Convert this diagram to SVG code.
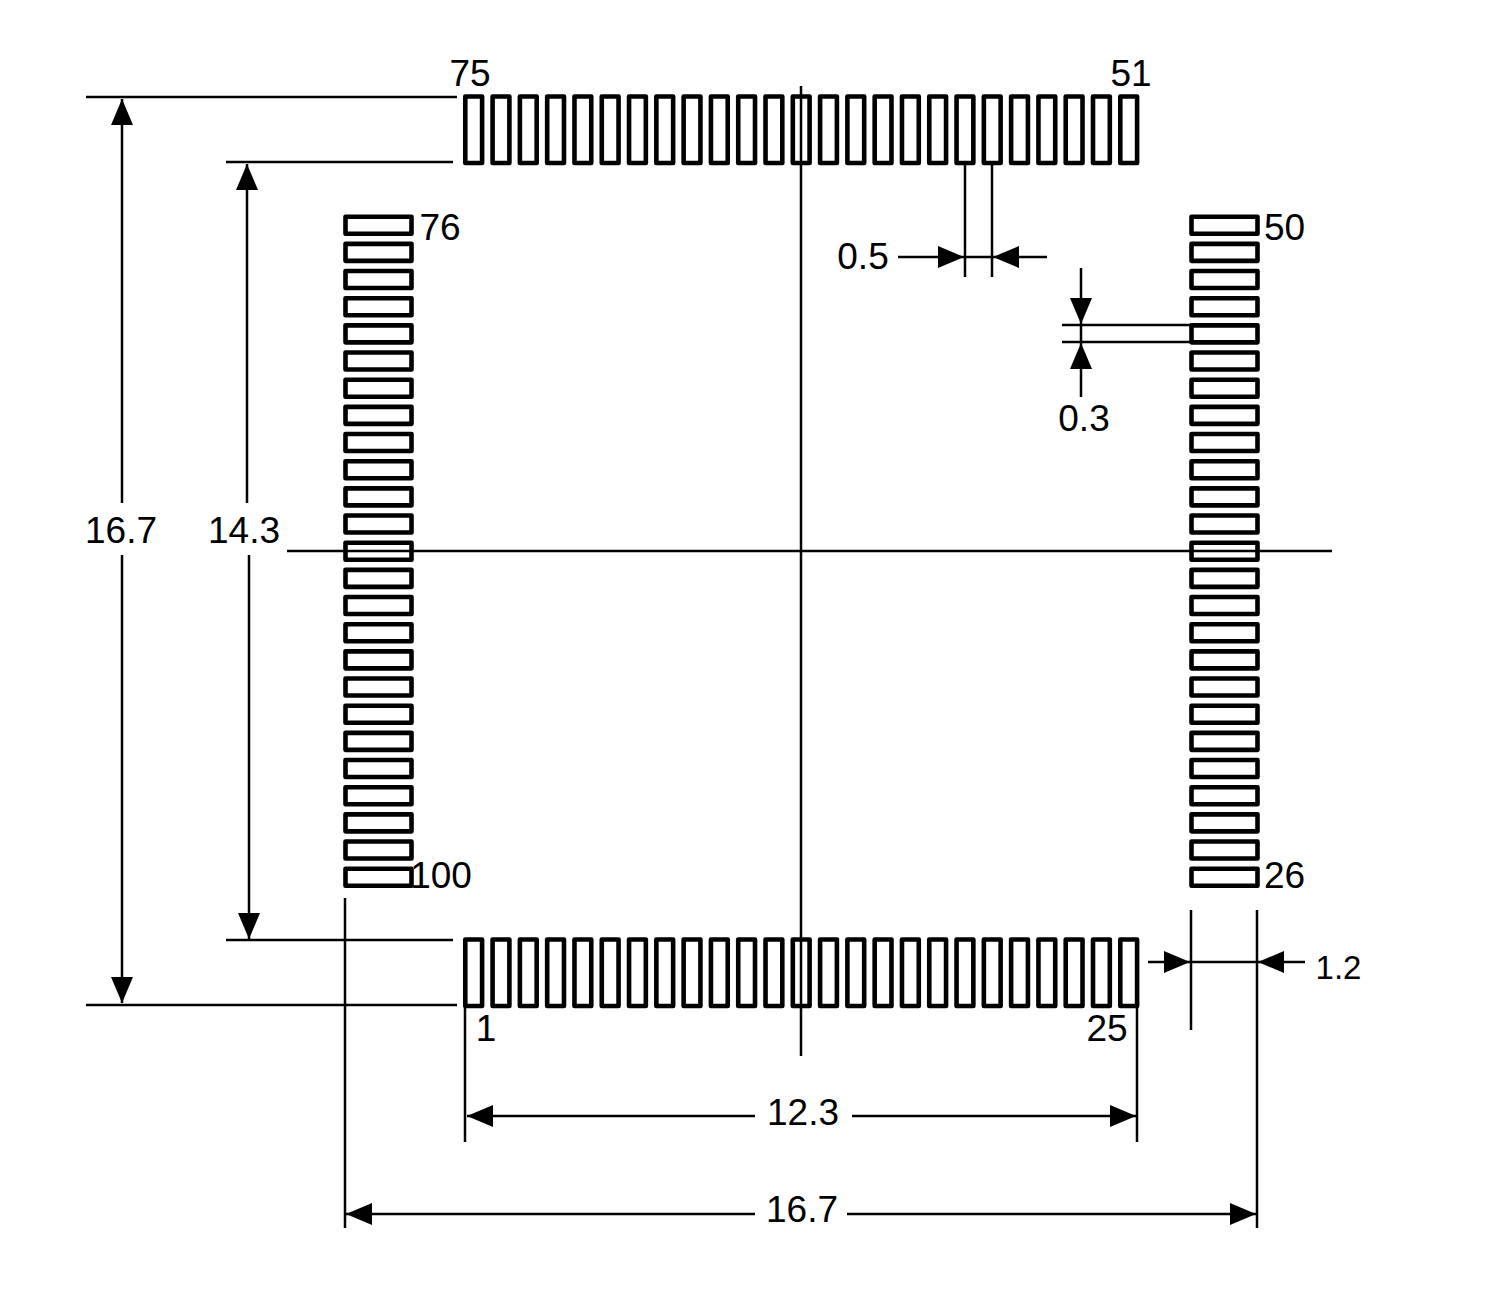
<svg xmlns="http://www.w3.org/2000/svg" width="1500" height="1300" viewBox="0 0 1500 1300">
<style>
text{font-family:"Liberation Sans",Arial,sans-serif;font-size:37px;fill:#000;text-anchor:middle}
.pad{fill:#fff;stroke:#000;stroke-width:4.6;stroke-linejoin:round}
.ln{stroke:#000;stroke-width:2.5;fill:none}
.ar{marker-end:url(#ah)}
</style>
<defs>
<marker id="ah" markerUnits="userSpaceOnUse" markerWidth="28" markerHeight="24" refX="26" refY="11" orient="auto"><path d="M0,0L26,11L0,22Z" fill="#000"/></marker>
<rect id="pv" class="pad" width="16.800" height="66.500"/>
<rect id="ph" class="pad" width="66" height="17"/>
<g id="rowv">
<use href="#pv" x="0"/><use href="#pv" x="27.29"/><use href="#pv" x="54.58"/><use href="#pv" x="81.88"/><use href="#pv" x="109.17"/><use href="#pv" x="136.46"/><use href="#pv" x="163.75"/><use href="#pv" x="191.04"/><use href="#pv" x="218.33"/><use href="#pv" x="245.63"/><use href="#pv" x="272.92"/><use href="#pv" x="300.21"/><use href="#pv" x="327.5"/><use href="#pv" x="354.79"/><use href="#pv" x="382.08"/><use href="#pv" x="409.38"/><use href="#pv" x="436.67"/><use href="#pv" x="463.96"/><use href="#pv" x="491.25"/><use href="#pv" x="518.54"/><use href="#pv" x="545.83"/><use href="#pv" x="573.13"/><use href="#pv" x="600.42"/><use href="#pv" x="627.71"/><use href="#pv" x="655"/>
</g>
<g id="colh">
<use href="#ph" y="0"/><use href="#ph" y="27.17"/><use href="#ph" y="54.33"/><use href="#ph" y="81.5"/><use href="#ph" y="108.67"/><use href="#ph" y="135.83"/><use href="#ph" y="163"/><use href="#ph" y="190.17"/><use href="#ph" y="217.33"/><use href="#ph" y="244.5"/><use href="#ph" y="271.67"/><use href="#ph" y="298.83"/><use href="#ph" y="326"/><use href="#ph" y="353.17"/><use href="#ph" y="380.33"/><use href="#ph" y="407.5"/><use href="#ph" y="434.67"/><use href="#ph" y="461.83"/><use href="#ph" y="489"/><use href="#ph" y="516.17"/><use href="#ph" y="543.33"/><use href="#ph" y="570.5"/><use href="#ph" y="597.67"/><use href="#ph" y="624.83"/><use href="#ph" y="652"/>
</g>
</defs>
<rect width="1500" height="1300" fill="#fff"/>
<g id="pads-top"><use href="#rowv" x="465.300" y="96.500"/></g>
<g id="pads-bottom"><use href="#rowv" x="465.300" y="939.500"/></g>
<g id="pads-left"><use href="#colh" x="345.500" y="216.700"/></g>
<g id="pads-right"><use href="#colh" x="1191.500" y="216.700"/></g>
<g id="connectors">
<path class="ln" d="M801 86V1056M287 551H1332"/>
<path class="ln" d="M86 97H457M226 162H453M226 940H453M86 1005H457"/>
<path class="ln" d="M345 898V1228M465 1005V1142M1137 1005V1142M1257 910V1228M1191 910V1030"/>
<path class="ln" d="M965 162V277M992 162V277M1062 325H1192M1062 342H1192M965 257H992M1191 962H1257M1081 325V342"/>
<path class="ln ar" d="M122 503V99"/>
<path class="ln ar" d="M122 555V1003"/>
<path class="ln ar" d="M247 503V164"/>
<path class="ln ar" d="M249 555V939"/>
<path class="ln ar" d="M755 1116H467"/>
<path class="ln ar" d="M852 1116H1136"/>
<path class="ln ar" d="M755 1214H346"/>
<path class="ln ar" d="M847 1214H1256"/>
<path class="ln ar" d="M898 257H964"/>
<path class="ln ar" d="M1047 257H993"/>
<path class="ln ar" d="M1081 268V324"/>
<path class="ln ar" d="M1081 397V343"/>
<path class="ln ar" d="M1148 962H1190"/>
<path class="ln ar" d="M1305 962H1258"/>
</g>
<g id="labels">
<text x="470" y="86">75</text>
<text x="1131" y="86">51</text>
<text x="440" y="239.500">76</text>
<text x="1284.500" y="239.500">50</text>
<text x="441" y="888">100</text>
<text x="1284.500" y="888">26</text>
<text x="486" y="1041">1</text>
<text x="1107" y="1041">25</text>
<text x="863" y="269">0.5</text>
<text x="1084" y="431">0.3</text>
<text x="121" y="542.500">16.7</text>
<text x="244" y="542.500">14.3</text>
<text x="803" y="1125">12.3</text>
<text x="802" y="1222">16.7</text>
<text x="1338.500" y="979" style="font-size:33px">1.2</text>
</g>
</svg>
